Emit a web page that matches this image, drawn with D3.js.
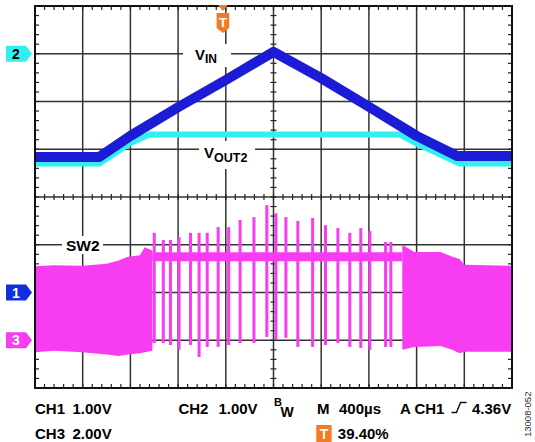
<!DOCTYPE html>
<html>
<head>
<meta charset="utf-8">
<script src="https://cdn.jsdelivr.net/npm/d3@7"></script>
<style>
body { margin: 0; background: #fff; }
svg { display: block; font-family: "Liberation Sans", Arial, sans-serif; font-weight: bold; }
</style>
</head>
<body>
<svg></svg>
<script>
// all values in screen divisions: x 0..10 (400us/div), y -4..4
var vinX = [0, 1.35, 2.0, 3.0, 4.0, 5.0, 6.0, 7.0, 8.0, 8.85, 10];
var vinY = [0.84, 0.84, 1.28, 1.88, 2.45, 3.04, 2.49, 1.89, 1.28, 0.86, 0.86];

var vout2X = [0, 1.35, 2.0, 2.4, 7.65, 8.0, 8.9, 10];
var vout2Y = [0.70, 0.70, 1.13, 1.31, 1.31, 1.12, 0.70, 0.70];

// SW2 dense switching band, start of ramp
var sw1X = [0, 0.4, 1.0, 1.5, 1.75, 1.95, 2.2, 2.3, 2.46];
var sw1Top = [-1.45, -1.43, -1.44, -1.40, -1.33, -1.25, -1.22, -1.05, -1.12];
var sw1Bot = [-3.25, -3.22, -3.25, -3.30, -3.33, -3.30, -3.27, -3.25, -3.22];

// SW2 pulse-skipping section
var swMidX = [2.46, 7.70];
var swMidY = [-1.25, -1.25];
var spikeX = [2.50, 2.69, 2.84, 3.02, 3.26, 3.44, 3.61, 3.84, 4.06, 4.30, 4.59, 4.86, 5.05, 5.26, 5.51, 5.82, 6.09, 6.35, 6.60, 6.83, 7.02, 7.35, 7.46];
var spikeTop = [-0.75, -0.90, -0.90, -0.84, -0.75, -0.75, -0.75, -0.63, -0.63, -0.48, -0.42, -0.17, -0.34, -0.42, -0.50, -0.44, -0.59, -0.65, -0.75, -0.65, -0.71, -0.94, -0.94];
var spikeBot = [-3.06, -3.06, -3.10, -3.20, -3.10, -3.35, -3.14, -3.14, -3.10, -3.06, -3.06, -2.93, -2.99, -2.95, -3.14, -3.14, -3.10, -3.06, -3.14, -3.16, -3.20, -3.14, -3.14];

// SW2 dense band, end of ramp
var sw3X = [7.70, 7.95, 8.5, 8.75, 8.9, 9.0, 10];
var sw3Top = [-1.00, -1.15, -1.15, -1.25, -1.30, -1.42, -1.44];
var sw3Bot = [-3.20, -3.14, -3.12, -3.20, -3.27, -3.24, -3.24];

var blue = "#1c1cd6", cyan = "#30f0f0", magenta = "#f83cf2", orange = "#f47a20";

var svg = d3.select("svg").attr("width", 535).attr("height", 442);

var x = d3.scaleLinear().domain([0, 10]).range([35, 512]);
var y = d3.scaleLinear().domain([-4, 4]).range([388, 6]);

// graticule
var grid = svg.append("g").attr("stroke", "#333").attr("stroke-width", 1.5);
d3.range(1, 10).forEach(function(i) {
    grid.append("line").attr("x1", x(i)).attr("x2", x(i)).attr("y1", y(4)).attr("y2", y(-4));
});
d3.range(-3, 4).forEach(function(j) {
    grid.append("line").attr("x1", x(0)).attr("x2", x(10)).attr("y1", y(j)).attr("y2", y(j));
});

var ticks = svg.append("g").attr("stroke", "#222").attr("stroke-width", 1.2);
d3.range(0.2, 10, 0.2).forEach(function(t) {
    ticks.append("line").attr("x1", x(t)).attr("x2", x(t)).attr("y1", y(4)).attr("y2", y(4) + 4);
    ticks.append("line").attr("x1", x(t)).attr("x2", x(t)).attr("y1", y(-4)).attr("y2", y(-4) - 4);
    ticks.append("line").attr("x1", x(t)).attr("x2", x(t)).attr("y1", y(0) - 3).attr("y2", y(0) + 3);
});
d3.range(-3.8, 4, 0.2).forEach(function(t) {
    ticks.append("line").attr("y1", y(t)).attr("y2", y(t)).attr("x1", x(0)).attr("x2", x(0) + 4);
    ticks.append("line").attr("y1", y(t)).attr("y2", y(t)).attr("x1", x(10)).attr("x2", x(10) - 4);
    ticks.append("line").attr("y1", y(t)).attr("y2", y(t)).attr("x1", x(5) - 3).attr("x2", x(5) + 3);
});

// white boxes behind trace labels
svg.append("rect").attr("x", 183).attr("y", 44).attr("width", 48).attr("height", 23).attr("fill", "#fff");
svg.append("rect").attr("x", 199).attr("y", 141).attr("width", 56).attr("height", 28).attr("fill", "#fff");
svg.append("rect").attr("x", 62).attr("y", 236).attr("width", 41).attr("height", 18).attr("fill", "#fff");

// SW2
var area = d3.area()
    .x(function(d) { return x(d[0]); })
    .y0(function(d) { return y(d[2]); })
    .y1(function(d) { return y(d[1]); });

svg.append("path")
    .datum(sw1X.map(function(v, i) { return [v, sw1Top[i], sw1Bot[i]]; }))
    .attr("fill", magenta)
    .attr("d", area);
svg.append("path")
    .datum(sw3X.map(function(v, i) { return [v, sw3Top[i], sw3Bot[i]]; }))
    .attr("fill", magenta)
    .attr("d", area);

var line = d3.line()
    .x(function(d) { return x(d[0]); })
    .y(function(d) { return y(d[1]); });

svg.append("path")
    .datum(swMidX.map(function(v, i) { return [v, swMidY[i]]; }))
    .attr("fill", "none")
    .attr("stroke", magenta)
    .attr("stroke-width", 9)
    .attr("d", line);

svg.selectAll(".spike")
    .data(spikeX)
    .enter()
    .append("rect")
        .attr("class", "spike")
        .attr("x", function(d) { return x(d) - 1.5; })
        .attr("y", function(d, i) { return y(spikeTop[i]); })
        .attr("width", 3)
        .attr("height", function(d, i) { return y(spikeBot[i]) - y(spikeTop[i]); })
        .attr("fill", magenta);

// VOUT2 and VIN
svg.append("path")
    .datum(vout2X.map(function(v, i) { return [v, vout2Y[i]]; }))
    .attr("fill", "none")
    .attr("stroke", cyan)
    .attr("stroke-width", 6)
    .attr("stroke-linejoin", "round")
    .attr("d", line);

svg.append("path")
    .datum(vinX.map(function(v, i) { return [v, vinY[i]]; }))
    .attr("fill", "none")
    .attr("stroke", blue)
    .attr("stroke-width", 10)
    .attr("stroke-linejoin", "round")
    .attr("d", line);

// frame
svg.append("rect")
    .attr("x", x(0)).attr("y", y(4))
    .attr("width", x(10) - x(0)).attr("height", y(-4) - y(4))
    .attr("fill", "none").attr("stroke", "#111").attr("stroke-width", 2);

// trace labels
var vin = svg.append("text").attr("x", 195).attr("y", 60).attr("font-size", 15).text("V");
vin.append("tspan").attr("font-size", 12).attr("dy", 3).text("IN");
var vo = svg.append("text").attr("x", 204).attr("y", 158).attr("font-size", 15).text("V");
vo.append("tspan").attr("font-size", 12.5).attr("dy", 4).text("OUT2");
svg.append("text").attr("x", 66).attr("y", 251).attr("font-size", 15.5).text("SW2");

// channel markers
var markers = [["2", 3, cyan, "#000"], ["1", -2, "#1030e0", "#fff"], ["3", -3, magenta, "#fff"]];
markers.forEach(function(m) {
    var c = y(m[1]);
    svg.append("path")
        .attr("d", "M6," + (c - 8) + "H26L32," + c + "L26," + (c + 8) + "H6Z")
        .attr("fill", m[2]);
    svg.append("text")
        .attr("x", 16).attr("y", c + 5)
        .attr("text-anchor", "middle")
        .attr("font-size", 14)
        .attr("fill", m[3])
        .text(m[0]);
});

// trigger position marker
var tx = x(3.94);
svg.append("path").attr("d", "M" + (tx - 5) + ",5H" + (tx + 5) + "L" + tx + ",11Z").attr("fill", orange);
svg.append("path")
    .attr("d", "M" + (tx - 6.3) + ",13H" + (tx + 6.3) + "V28L" + tx + ",33L" + (tx - 6.3) + ",28Z")
    .attr("fill", orange);
svg.append("text").attr("x", tx).attr("y", 27).attr("text-anchor", "middle")
    .attr("font-size", 13).attr("fill", "#fff").text("T");

// readout
function txt(s, px, py, fs) {
    return svg.append("text").attr("x", px).attr("y", py).attr("font-size", fs || 15).text(s);
}
txt("CH1", 35, 413.5);
txt("1.00V", 72.5, 413.5);
txt("CH2", 178.4, 413.5);
txt("1.00V", 218.4, 413.5);
txt("B", 274, 406, 11);
txt("W", 280.5, 417, 14);
txt("M", 317, 413.5);
txt("400\u00b5s", 339, 413.5);
txt("A CH1", 400, 413.5);
svg.append("path")
    .attr("d", "M451.5,412.5H456.5L460.5,402.5H466.5")
    .attr("fill", "none").attr("stroke", "#111").attr("stroke-width", 1.4);
txt("4.36V", 472, 413.5);

txt("CH3", 35, 438.5);
txt("2.00V", 72.5, 438.5);
svg.append("rect").attr("x", 316.3).attr("y", 425).attr("width", 15.3).attr("height", 17).attr("fill", orange);
svg.append("text").attr("x", 324).attr("y", 438.5).attr("text-anchor", "middle")
    .attr("font-size", 14).attr("fill", "#fff").text("T");
txt("39.40%", 337.8, 438.5);

svg.append("text")
    .attr("transform", "translate(531,437) rotate(-90)")
    .attr("font-size", 9.5)
    .attr("font-weight", "normal")
    .attr("fill", "#333")
    .text("13008-052");
</script>
</body>
</html>
